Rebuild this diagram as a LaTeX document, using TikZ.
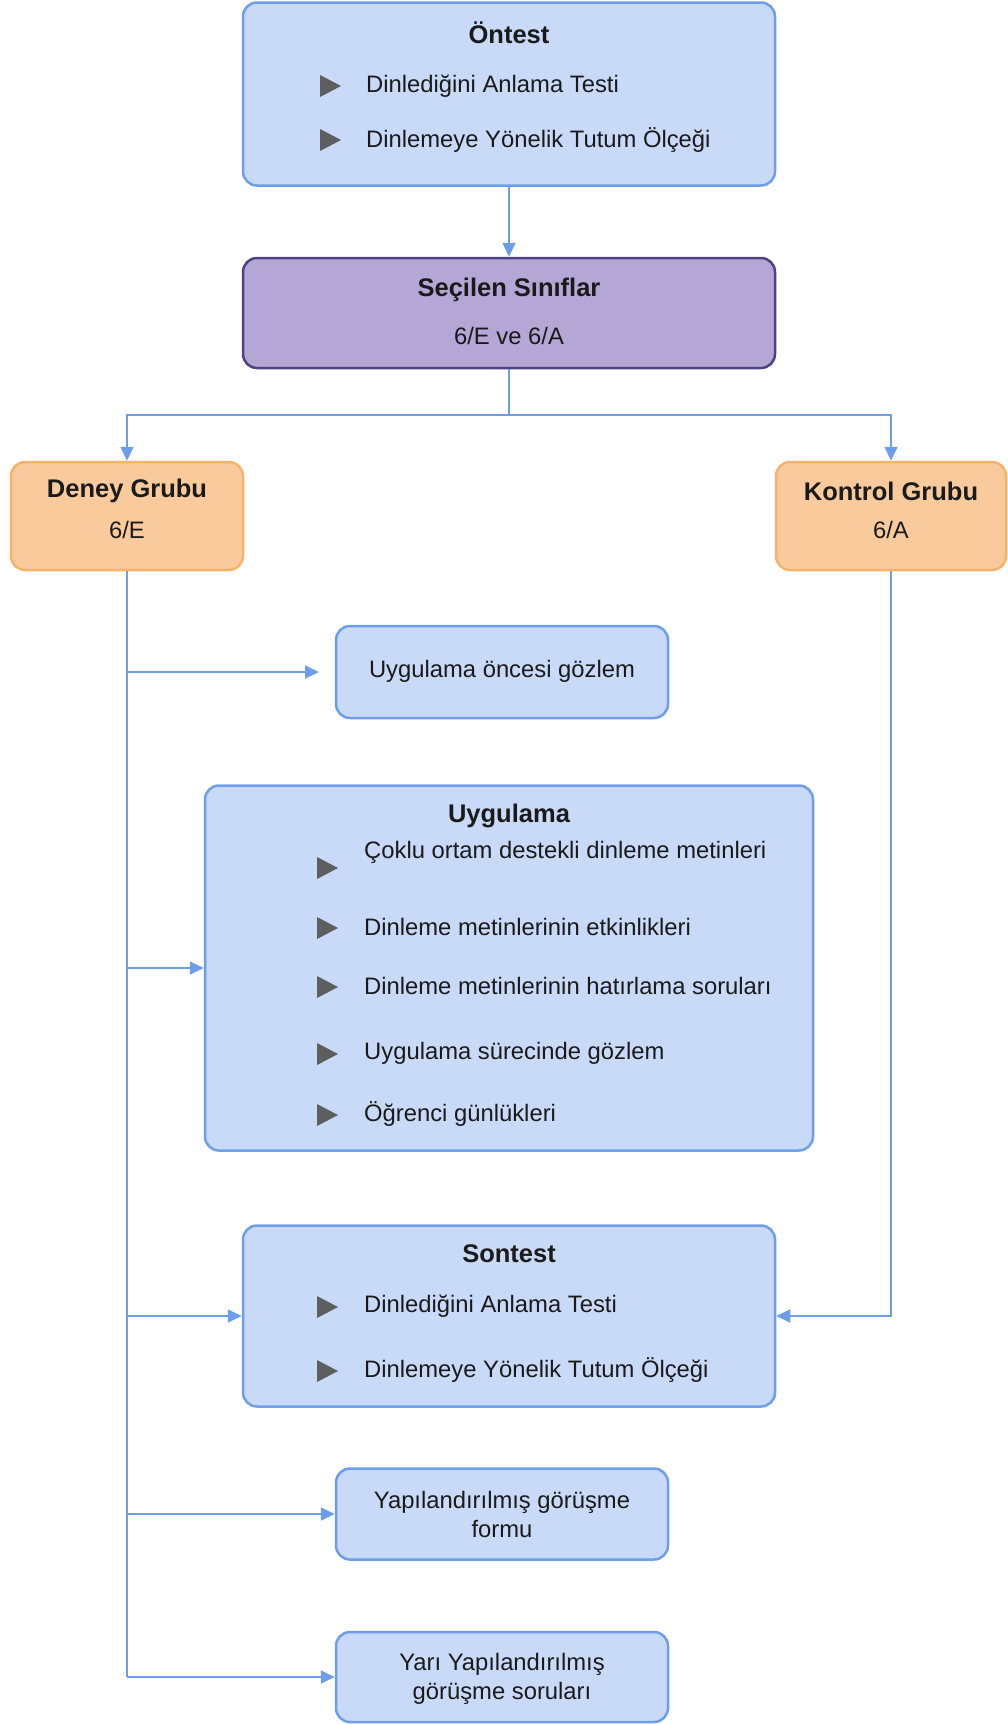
\documentclass[tikz,border=0pt]{standalone}
\usepackage{fontspec}
\setmainfont{Liberation Sans}
\usetikzlibrary{arrows.meta}
\definecolor{bluefill}{HTML}{C9DAF8}
\definecolor{blueline}{HTML}{6D9EEB}
\definecolor{purplefill}{HTML}{B4A7D6}
\definecolor{purpleline}{HTML}{4E4380}
\definecolor{orangefill}{HTML}{F9CB9C}
\definecolor{orangeline}{HTML}{F6B26B}
\definecolor{wire}{HTML}{6D9EEB}
\definecolor{bulletgray}{HTML}{5E5E5E}
\definecolor{ink}{HTML}{1A1A1A}
\tikzset{
  card/.style={rounded corners=14pt, line width=2.5pt, inner sep=0pt},
  bluecard/.style={card, draw=blueline, fill=bluefill},
  purplecard/.style={card, draw=purpleline, fill=purplefill},
  orangecard/.style={card, draw=orangeline, fill=orangefill},
  title/.style={font=\fontsize{25.5}{30}\selectfont\bfseries, text=ink, inner sep=0pt},
  plain/.style={font=\fontsize{23.8}{29}\selectfont, text=ink, inner sep=0pt},
  item/.style={plain, anchor=west},
  wireline/.style={draw=wire, line width=1.8pt},
  arr/.style={wireline, -{Triangle[length=14pt,width=13pt]}},
  tri/.pic={\fill[bulletgray] (-10,-11) -- (11,0) -- (-10,11) -- cycle;}
}
\begin{document}
\begin{tikzpicture}[x=1pt,y=-1pt]
\useasboundingbox (0,0) rectangle (1008,1724);

% Boxes
\node[bluecard, minimum width=532pt, minimum height=183pt] (ontest) at (509,94) {};
\node[purplecard, minimum width=532pt, minimum height=110pt] (secilen) at (509,313) {};
\node[orangecard, minimum width=232pt, minimum height=108pt] (deney) at (127,516) {};
\node[orangecard, minimum width=230pt, minimum height=108pt] (kontrol) at (891,516) {};
\node[bluecard, minimum width=332pt, minimum height=92pt] (oncesi) at (502,672) {};
\node[bluecard, minimum width=608pt, minimum height=365pt] (uyg) at (509,968) {};
\node[bluecard, minimum width=532pt, minimum height=181pt] (sontest) at (509,1316) {};
\node[bluecard, minimum width=332pt, minimum height=91pt] (yap) at (502,1514) {};
\node[bluecard, minimum width=332pt, minimum height=90pt] (yari) at (502,1677) {};

% Öntest contents
\node[title] (ontestT) at (509,33) {Öntest};
\pic at (330,86) {tri};
\node[item] (ontest1) at (366,86) {Dinlediğini Anlama Testi};
\pic at (330,140) {tri};
\node[item] (ontest2) at (366,140) {Dinlemeye Yönelik Tutum Ölçeği};

% Selected classes
\node[title] (secilenT) at (509,290) {Seçilen Sınıflar};
\node[plain] (secilenS) at (509,336) {6/E ve 6/A};

% Groups
\node[title] (deneyT) at (127,491) {Deney Grubu};
\node[plain] (deneyS) at (127,530) {6/E};
\node[title] (kontrolT) at (891,491) {Kontrol Grubu};
\node[plain] (kontrolS) at (891,530) {6/A};

% Pre-observation
\node[plain] (oncesiT) at (502,671) {Uygulama öncesi gözlem};

% Implementation
\node[title] (uygT) at (509,816) {Uygulama};
\pic at (327,868) {tri};
\node[item] (uyg1) at (364,852) {Çoklu ortam destekli dinleme metinleri};
\pic at (327,928) {tri};
\node[item] (uyg2) at (364,927) {Dinleme metinlerinin etkinlikleri};
\pic at (327,987) {tri};
\node[item] (uyg3) at (364,986) {Dinleme metinlerinin hatırlama soruları};
\pic at (327,1054) {tri};
\node[item] (uyg4) at (364,1053) {Uygulama sürecinde gözlem};
\pic at (327,1115) {tri};
\node[item] (uyg5) at (364,1114) {Öğrenci günlükleri};

% Post-test
\node[title] (sontestT) at (509,1254) {Sontest};
\pic at (327,1307) {tri};
\node[item] (sontest1) at (364,1306) {Dinlediğini Anlama Testi};
\pic at (327,1371) {tri};
\node[item] (sontest2) at (364,1370) {Dinlemeye Yönelik Tutum Ölçeği};

% Interviews
\node[plain, align=center] (yapT) at (502,1514) {Yapılandırılmış görüşme\\formu};
\node[plain, align=center] (yariT) at (502,1679) {Yarı Yapılandırılmış\\görüşme soruları};

% Connectors
\coordinate (split) at (509,415);
\coordinate (oncesiIn) at (319,672);
\coordinate (trunkEnd) at (127,1677);

\draw[arr] (ontest.south) -- (secilen.north);
\draw[wireline] (secilen.south) -- (split);
\draw[arr] (split) -| (deney.north);
\draw[arr] (split) -| (kontrol.north);

\draw[wireline] (deney.south) -- (trunkEnd);
\draw[arr] (deney.south |- oncesiIn) -- (oncesiIn);
\draw[arr] (deney.south |- uyg.west) -- (uyg.west);
\draw[arr] (deney.south |- sontest.west) -- (sontest.west);
\draw[arr] (deney.south |- yap.west) -- (yap.west);
\draw[arr] (trunkEnd) -- (yari.west);

\draw[arr] (kontrol.south) |- (sontest.east);
\end{tikzpicture}
\end{document}
